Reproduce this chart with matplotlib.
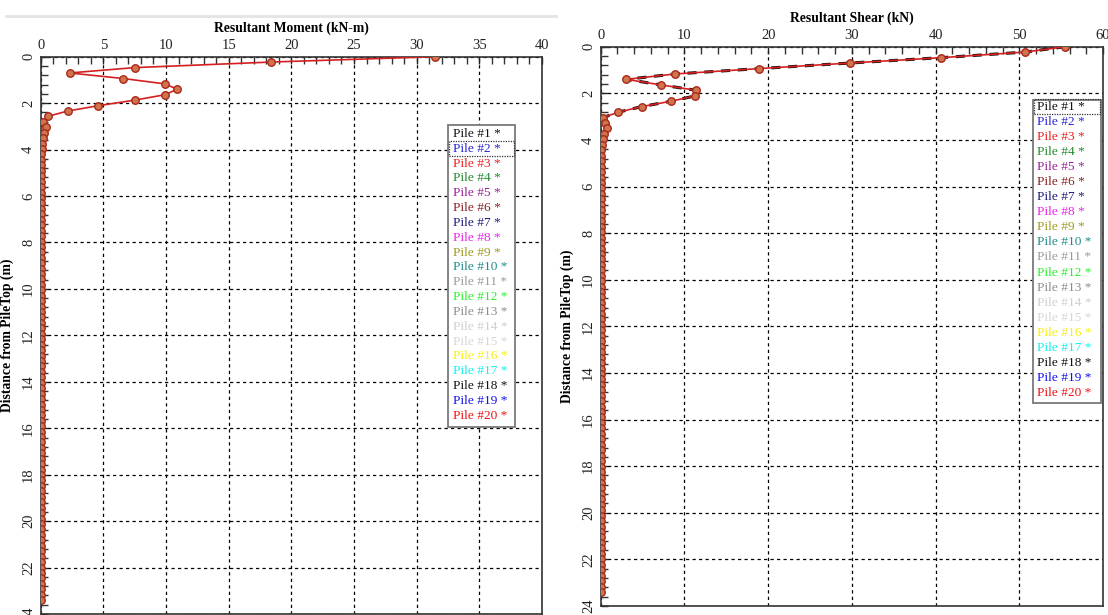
import matplotlib
matplotlib.use("Agg")
import matplotlib.pyplot as plt
from matplotlib.ticker import MultipleLocator
from matplotlib.patches import Rectangle
from matplotlib.lines import Line2D

plt.rcParams["font.family"] = ["Liberation Serif", "DejaVu Serif"]

# Node depths along the pile (m)
depth_m = [
    0.00, 0.23, 0.47, 0.70, 0.94, 1.17, 1.40, 1.64, 1.87, 2.11,
    2.34, 2.57, 2.81, 3.04, 3.28, 3.51, 3.74, 3.98, 4.21, 4.45,
    4.68, 4.91, 5.15, 5.38, 5.62, 5.85, 6.08, 6.32, 6.55, 6.79,
    7.02, 7.25, 7.49, 7.72, 7.96, 8.19, 8.42, 8.66, 8.89, 9.13,
    9.36, 9.59, 9.83, 10.06, 10.30, 10.53, 10.76, 11.00, 11.23, 11.47,
    11.70, 11.93, 12.17, 12.40, 12.64, 12.87, 13.10, 13.34, 13.57, 13.81,
    14.04, 14.27, 14.51, 14.74, 14.98, 15.21, 15.44, 15.68, 15.91, 16.15,
    16.38, 16.61, 16.85, 17.08, 17.32, 17.55, 17.78, 18.02, 18.25, 18.49,
    18.72, 18.95, 19.19, 19.42, 19.66, 19.89, 20.12, 20.36, 20.59, 20.83,
    21.06, 21.29, 21.53, 21.76, 22.00, 22.23, 22.46, 22.70, 22.93, 23.17,
    23.40,
]

# Resultant moment (kN-m) at each node
moment_kNm = [
    31.5, 18.4, 7.5, 2.3, 6.6, 9.9, 10.9, 9.9, 7.5, 4.6,
    2.15, 0.57, 0.20, 0.42, 0.30, 0.22, 0.12, 0.08, 0.06, 0.04,
    0.03, 0.02, 0.04, 0.02, 0.03, 0.02, 0.04, 0.02, 0.03, 0.02,
    0.04, 0.02, 0.03, 0.02, 0.04, 0.02, 0.03, 0.02, 0.04, 0.02,
    0.03, 0.02, 0.04, 0.02, 0.03, 0.02, 0.04, 0.02, 0.03, 0.02,
    0.04, 0.02, 0.03, 0.02, 0.04, 0.02, 0.03, 0.02, 0.04, 0.02,
    0.03, 0.02, 0.04, 0.02, 0.03, 0.02, 0.04, 0.02, 0.03, 0.02,
    0.04, 0.02, 0.03, 0.02, 0.04, 0.02, 0.03, 0.02, 0.04, 0.02,
    0.03, 0.02, 0.04, 0.02, 0.03, 0.02, 0.04, 0.02, 0.03, 0.02,
    0.04, 0.02, 0.03, 0.02, 0.04, 0.02, 0.03, 0.02, 0.04, 0.02,
    0.02,
]

# Resultant shear (kN) at each node
shear_kN = [
    55.5, 50.7, 40.7, 29.8, 18.9, 8.9, 3.05, 7.2, 11.4, 11.3,
    8.4, 4.9, 2.1, 0.30, 0.55, 0.75, 0.45, 0.30, 0.15, 0.08,
    0.05, 0.03, 0.06, 0.03, 0.05, 0.03, 0.06, 0.03, 0.05, 0.03,
    0.06, 0.03, 0.05, 0.03, 0.06, 0.03, 0.05, 0.03, 0.06, 0.03,
    0.05, 0.03, 0.06, 0.03, 0.05, 0.03, 0.06, 0.03, 0.05, 0.03,
    0.06, 0.03, 0.05, 0.03, 0.06, 0.03, 0.05, 0.03, 0.06, 0.03,
    0.05, 0.03, 0.06, 0.03, 0.05, 0.03, 0.06, 0.03, 0.05, 0.03,
    0.06, 0.03, 0.05, 0.03, 0.06, 0.03, 0.05, 0.03, 0.06, 0.03,
    0.05, 0.03, 0.06, 0.03, 0.05, 0.03, 0.06, 0.03, 0.05, 0.03,
    0.06, 0.03, 0.05, 0.03, 0.06, 0.03, 0.05, 0.03, 0.06, 0.03,
    0.03,
]

pile_labels = [f"Pile #{k} *" for k in range(1, 21)]
pile_colors = [
    "#111111", "#2424d8", "#f01c1c", "#1f8a2a", "#9a1f9a",
    "#8a2020", "#1c1c7c", "#f020f0", "#a09a1c", "#1f8c8c",
    "#9a9a9a", "#28f028", "#8c8c8c", "#cfcfcf", "#d6d6d6",
    "#f6f010", "#10f0f0", "#111111", "#1010f0", "#f01010",
]

W, H = 1108, 615
fig = plt.figure(figsize=(W / 100, H / 100), dpi=100)
fig.patch.set_facecolor("white")


def fx(px):
    return px / W


def fy(py):
    return 1 - py / H


axL = fig.add_axes([fx(40.7), fy(614), fx(542) - fx(40.7), fy(56.7) - fy(614)])
axR = fig.add_axes([fx(600.7), fy(606), fx(1103) - fx(600.7), fy(46.7) - fy(606)])

LINE_RED = "#d42020"
MK_FACE = "#d0744c"
MK_EDGE = "#a8281c"


def style_axes(ax, xmax, xmajor, xminor, xlabel):
    ax.set_xlim(0, xmax)
    ax.set_ylim(24, 0)
    ax.xaxis.set_major_locator(MultipleLocator(xmajor))
    ax.xaxis.set_minor_locator(MultipleLocator(xminor))
    ax.yaxis.set_major_locator(MultipleLocator(2))
    ax.yaxis.set_minor_locator(MultipleLocator(0.4))
    ax.xaxis.tick_top()
    ax.xaxis.set_label_position("top")
    ax.tick_params(which="both", direction="in", top=True, bottom=False,
                   left=True, right=False, length=5, width=1, color="#333333")
    ax.tick_params(axis="x", labelsize=10.5, pad=3.5, colors="#222222")
    ax.tick_params(axis="y", labelsize=10.5, pad=4, labelrotation=90, colors="#222222")
    for lab in ax.get_yticklabels():
        lab.set_verticalalignment("center")
    ax.grid(True, which="major", color="black", linestyle=(0, (2.6, 2.6)), lw=0.9)
    ax.set_axisbelow(True)
    for sp in ax.spines.values():
        sp.set_color("#333333")
        sp.set_linewidth(1.2)
    ax.set_xlabel(xlabel, fontweight="bold", fontsize=9.8, labelpad=5)
    ax.set_ylabel("Distance from PileTop (m)", fontweight="bold", fontsize=9.8, labelpad=6)


style_axes(axL, 40, 5, 1, "Resultant Moment (kN-m)")
style_axes(axR, 60, 10, 2, "Resultant Shear (kN)")

# Moment profile
axL.plot(moment_kNm, depth_m, color=LINE_RED, lw=1.2, marker="o", ms=5.4,
         mfc=MK_FACE, mec=MK_EDGE, mew=1.0, zorder=3)

# Shear profile: dashed pile beneath, red pile on top
axR.plot(shear_kN, depth_m, color="#111111", lw=2.2, linestyle=(0, (3, 2.5)), zorder=2)
axR.plot(shear_kN, depth_m, color=LINE_RED, lw=1.2, marker="o", ms=5.4,
         mfc=MK_FACE, mec=MK_EDGE, mew=1.0, zorder=3)


def draw_legend(x0, y0, x1, y1, first_y, step, text_x, focus):
    box = Rectangle((fx(x0), fy(y1)), fx(x1) - fx(x0), fy(y0) - fy(y1),
                    transform=fig.transFigure, facecolor="white",
                    edgecolor="#7a7a7a", lw=1.3, zorder=5)
    fig.add_artist(box)
    for i, (lab, col) in enumerate(zip(pile_labels, pile_colors)):
        fig.text(fx(text_x), fy(first_y + i * step), lab, color=col,
                 fontsize=9.6, ha="left", va="center", zorder=6)
    fyc = first_y + focus * step
    ring = Rectangle((fx(x0 + 1), fy(fyc + 7.5)), fx(x1 - 1) - fx(x0 + 1),
                     fy(fyc - 7.5) - fy(fyc + 7.5), transform=fig.transFigure,
                     facecolor="none", edgecolor="#333333", lw=0.9,
                     linestyle=(0, (1, 1)), zorder=7)
    fig.add_artist(ring)


draw_legend(448.3, 125, 514.5, 427, 134, 14.83, 452.7, 1)
draw_legend(1032.7, 100, 1100.7, 402.7, 106.7, 15.08, 1037.3, 0)

# Window edge above the left panel
fig.add_artist(Line2D([fx(6), fx(556)], [fy(16), fy(16)], transform=fig.transFigure,
                      color="#e4e4e4", lw=2))

fig.savefig("out.png", dpi=100, facecolor="white")
